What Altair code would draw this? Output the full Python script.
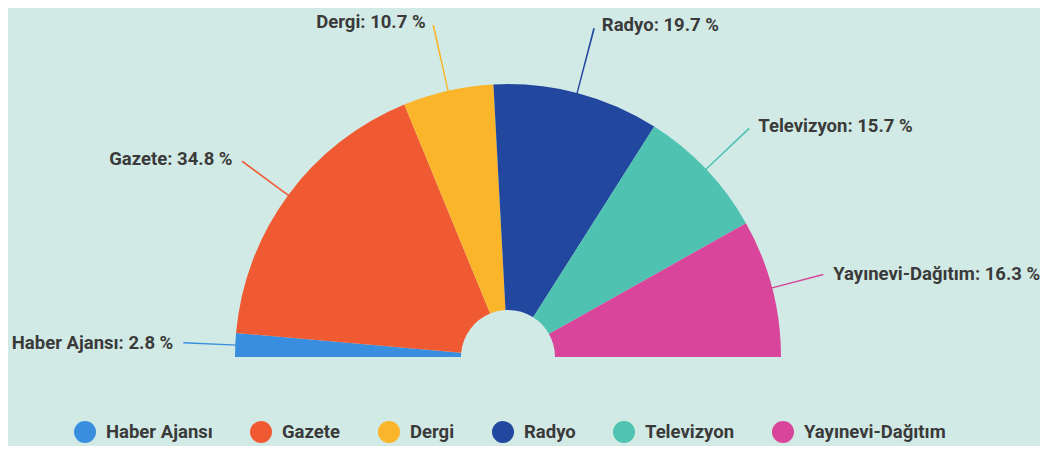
import math
import altair as alt
import pandas as pd

categories = ["Haber Ajansı", "Gazete", "Dergi", "Radyo", "Televizyon", "Yayınevi-Dağıtım"]
shares = [2.8, 34.8, 10.7, 19.7, 15.7, 16.3]
colors = ["#3a8edf", "#ef5a33", "#fab52b", "#22479f", "#4fc2b1", "#d8459a"]

df = pd.DataFrame({"cat": categories, "val": shares})
df["end"] = df["val"].cumsum()
df["start"] = df["end"] - df["val"]
df["mid"] = (df["start"] + df["end"]) / 2
df["label"] = [f"{c}: {v} %" for c, v in zip(categories, shares)]

CX, CY = 500, 349
R_OUT, R_IN = 273, 47
LAB_A, LAB_B = 328, 344   # label ring (horizontal / vertical half-axes)
EPS = 0.08

theta_scale = alt.Scale(domain=[0, 100], range=[-math.pi / 2, math.pi / 2])
color_scale = alt.Scale(domain=categories, range=colors)

base = alt.Chart(df).encode(x=alt.value(CX), y=alt.value(CY)).transform_calculate(
    t="datum.mid / 100 * PI - PI / 2"
).transform_calculate(
    rl="1 / sqrt(pow(sin(datum.t) / %d, 2) + pow(cos(datum.t) / %d, 2))" % (LAB_A, LAB_B)
)

slices = base.mark_arc(radius=R_OUT, radius2=R_IN, stroke=None).encode(
    theta=alt.Theta("start:Q", stack=None, scale=theta_scale),
    theta2="end:Q",
    color=alt.Color(
        "cat:N",
        scale=color_scale,
        sort=categories,
        legend=alt.Legend(
            title=None,
            orient="none",
            direction="horizontal",
            legendX=66,
            legendY=413,
            symbolType="circle",
            symbolSize=484,
            symbolStrokeWidth=0,
            symbolOpacity=1,
            labelFont="Roboto",
            labelFontSize=18.5,
            labelFontWeight="bold",
            labelColor="#3a3a3a",
            labelOffset=10,
            columnPadding=37,
        ),
    ),
)

connectors = base.transform_calculate(
    a="datum.mid - %f" % EPS,
    b="datum.mid + %f" % EPS,
    rc="datum.rl - 3",
    r0="%d" % (R_OUT - 2),
).mark_arc().encode(
    theta=alt.Theta("a:Q", stack=None, scale=theta_scale),
    theta2="b:Q",
    radius=alt.Radius("rc:Q", scale=None),
    radius2="r0:Q",
    color=alt.Color("cat:N", scale=color_scale, legend=None),
)

text_kw = dict(font="Roboto", fontSize=18.5, fontWeight="bold",
               color="#3a3a3a", baseline="middle")

labels_left = base.transform_filter("datum.mid < 50").mark_text(
    align="right", dx=-7, **text_kw
).encode(
    theta=alt.Theta("mid:Q", stack=None, scale=theta_scale),
    radius=alt.Radius("rl:Q", scale=None),
    text="label:N",
)

labels_right = base.transform_filter("datum.mid >= 50").mark_text(
    align="left", dx=7, **text_kw
).encode(
    theta=alt.Theta("mid:Q", stack=None, scale=theta_scale),
    radius=alt.Radius("rl:Q", scale=None),
    text="label:N",
)

chart = alt.layer(slices, connectors, labels_left, labels_right).properties(
    width=1032,
    height=438,
    autosize=alt.AutoSizeParams(type="fit", contains="padding"),
    padding=0,
    background="#d2eae5",
).configure_view(stroke=None)

chart.save("out.html", embed_options={"renderer": "svg", "actions": False})
